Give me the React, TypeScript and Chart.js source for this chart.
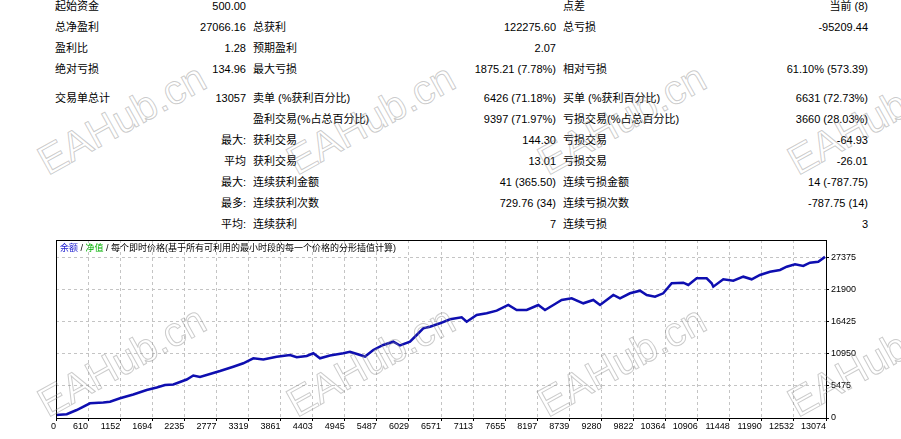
import React, { useEffect, useRef } from "react";
import { Chart, registerables } from "chart.js";

Chart.register(...registerables);

// ---- statistics table (MT4 report) ----
const colLabelA = ["起始资金", "总净盈利", "盈利比", "绝对亏损", "交易单总计", "", "", "", "", "", ""];
const colValueA = ["500.00", "27066.16", "1.28", "134.96", "13057", "", "最大:", "平均", "最大:", "最多:", "平均:"];
const colLabelB = ["", "总获利", "预期盈利", "最大亏损", "卖单 (%获利百分比)", "盈利交易(%占总百分比)", "获利交易", "获利交易", "连续获利金额", "连续获利次数", "连续获利"];
const colValueB = ["", "122275.60", "2.07", "1875.21 (7.78%)", "6426 (71.18%)", "9397 (71.97%)", "144.30", "13.01", "41 (365.50)", "729.76 (34)", "7"];
const colLabelC = ["点差", "总亏损", "", "相对亏损", "买单 (%获利百分比)", "亏损交易(%占总百分比)", "亏损交易", "亏损交易", "连续亏损金额", "连续亏损次数", "连续亏损"];
const colValueC = ["当前 (8)", "-95209.44", "", "61.10% (573.39)", "6631 (72.73%)", "3660 (28.03%)", "-64.93", "-26.01", "14 (-787.75)", "-787.75 (14)", "3"];

// ---- balance curve (trade number -> balance) ----
const tradeNo = [
  0, 182, 351, 577, 803, 917, 1087, 1312, 1540, 1710, 1851, 1992, 2219, 2331, 2445, 2671, 2785, 3010,
  3180, 3350, 3520, 3747, 3973, 4087, 4257, 4369, 4482, 4652, 4878, 4992, 5111, 5247, 5387, 5557,
  5727, 5841, 6011, 6124, 6236, 6350, 6520, 6690, 6888, 6973, 7143, 7313, 7483, 7680, 7822, 7992,
  8189, 8303, 8473, 8586, 8756, 8953, 9123, 9237, 9463, 9576, 9746, 9916, 10030, 10171, 10311,
  10454, 10651, 10736, 10878, 11048, 11133, 11160, 11330, 11500, 11670, 11812, 11953, 12123, 12293,
  12407, 12548, 12688, 12802, 12943, 13057,
];
const balance = [
  500, 650, 1369, 2515, 2652, 2789, 3371, 4021, 4791, 5219, 5646, 5732, 6587, 7272, 7015, 7700, 8042, 8778,
  9359, 10215, 10009, 10489, 10779, 10386, 10608, 11070, 10215, 10694, 11070, 11344, 10950, 10523, 11635, 12490,
  13055, 12405, 13055, 14201, 15348, 15621, 16203, 16888, 17230, 16477, 17623, 17914, 18359, 19334, 18479, 18479,
  19334, 18479, 19505, 20190, 20481, 19625, 20190, 19334, 21045, 20481, 21336, 21781, 21045, 20755, 21336,
  23047, 23150, 22756, 23903, 23903, 23047, 22465, 23732, 23493, 24177, 23732, 24467, 25032, 25323,
  25887, 26298, 26007, 26572, 26743, 27566,
];

const xTickLabels = [
  "0", "610", "1152", "1694", "2235", "2777", "3319", "3861", "4403", "4945", "5487", "6029", "6571",
  "7113", "7655", "8197", "8739", "9280", "9822", "10364", "10906", "11448", "11990", "12532", "13074",
];
const yTickValues = [0, 5475, 10950, 16425, 21900, 27375];
const X_MAX = 13074;
const Y_MAX = 30454;

const legendParts = [
  { text: "余额", color: "#1a1ad0" },
  { text: " / ", color: "#000" },
  { text: "净值", color: "#00b000" },
  { text: " / 每个即时价格(基于所有可利用的最小时段的每一个价格的分形插值计算)", color: "#000" },
];

const watermarkX = [48, 297, 548, 798];
const watermarkY = [177, 419];

const FONT = '"Liberation Sans", "Noto Sans CJK SC", sans-serif';

export default function App() {
  const canvasRef = useRef<HTMLCanvasElement | null>(null);

  useEffect(() => {
    const canvas = canvasRef.current;
    if (!canvas) return;
    const framePlugin = {
      id: "frame",
      afterDatasetsDraw(chart: any) {
        const { ctx, chartArea } = chart;
        ctx.save();
        ctx.strokeStyle = "#000";
        ctx.lineWidth = 1;
        const l = Math.round(chartArea.left) + 0.5;
        const t = Math.round(chartArea.top) + 0.5;
        const w = Math.round(chartArea.right - chartArea.left);
        const h = Math.round(chartArea.bottom - chartArea.top);
        ctx.strokeRect(l, t, w, h);
        ctx.restore();
      },
    };
    const chart = new Chart(canvas, {
      type: "line",
      data: {
        datasets: [
          {
            label: "余额",
            data: tradeNo.map((t, i) => ({ x: t, y: balance[i] })),
            borderColor: "#0e0eb0",
            borderWidth: 2.5,
            pointRadius: 0,
            tension: 0,
            fill: false,
          },
        ],
      },
      options: {
        animation: false,
        responsive: false,
        maintainAspectRatio: false,
        layout: { padding: { left: 56, top: 10, right: 0, bottom: 0 } },
        plugins: { legend: { display: false }, tooltip: { enabled: false }, title: { display: false } },
        scales: {
          x: {
            type: "linear",
            min: 0,
            max: X_MAX,
            afterBuildTicks: (scale: any) => {
              scale.ticks = xTickLabels.map((_, i) => ({ value: (i * X_MAX) / (xTickLabels.length - 1) }));
            },
            afterFit: (scale: any) => {
              scale.height = 21;
            },
            grid: {
              color: "#c4c4c4",
              lineWidth: 1,
              drawTicks: true,
              tickLength: 3,
              tickColor: "#000",
              tickBorderDash: [],
            },
            border: { display: false, dash: [3, 3] },
            ticks: {
              autoSkip: false,
              maxRotation: 0,
              minRotation: 0,
              align: "end",
              padding: 0,
              color: "#000",
              font: { family: FONT, size: 9 },
              callback: (_v: any, index: number) => xTickLabels[index],
            },
          },
          y: {
            type: "linear",
            position: "right",
            min: 0,
            max: Y_MAX,
            afterBuildTicks: (scale: any) => {
              scale.ticks = yTickValues.map((v) => ({ value: v }));
            },
            afterFit: (scale: any) => {
              scale.width = 75;
            },
            grid: {
              color: "#c4c4c4",
              lineWidth: 1,
              drawTicks: true,
              tickLength: 3,
              tickColor: "#000",
              tickBorderDash: [],
            },
            border: { display: false, dash: [3, 3] },
            ticks: {
              padding: 2,
              color: "#000",
              font: { family: FONT, size: 9 },
              callback: (v: any) => String(v),
            },
          },
        },
      },
      plugins: [framePlugin],
    } as any);
    return () => chart.destroy();
  }, []);

  const rowCenters = [6, 27, 48, 69, 98, 119, 140, 161, 182, 203, 224];
  const cell = (text: string, top: number, left: number, width: number, align: "left" | "right") => (
    <div
      style={{
        position: "absolute",
        top,
        left,
        width,
        height: 14,
        lineHeight: "14px",
        textAlign: align,
        whiteSpace: "nowrap",
        fontSize: 11,
        color: "#000",
      }}
    >
      {text}
    </div>
  );

  return (
    <div
      style={{
        position: "absolute",
        left: 0,
        top: 0,
        width: 901,
        height: 439,
        overflow: "hidden",
        background: "#fff",
        fontFamily: FONT,
      }}
    >
      {rowCenters.map((c, i) => {
        const top = c - 7;
        return (
          <React.Fragment key={i}>
            {cell(colLabelA[i], top, 55, 150, "left")}
            {cell(colValueA[i], top, 106, 140, "right")}
            {cell(colLabelB[i], top, 253, 200, "left")}
            {cell(colValueB[i], top, 400, 156, "right")}
            {cell(colLabelC[i], top, 563, 200, "left")}
            {cell(colValueC[i], top, 700, 168, "right")}
          </React.Fragment>
        );
      })}
      <canvas
        ref={canvasRef}
        width={901}
        height={209}
        style={{ position: "absolute", left: 0, top: 230, width: 901, height: 209 }}
      />
      <div
        style={{
          position: "absolute",
          left: 60,
          top: 242,
          height: 12,
          lineHeight: "12px",
          fontSize: 9,
          whiteSpace: "nowrap",
        }}
      >
        {legendParts.map((p, i) => (
          <span key={i} style={{ color: p.color }}>
            {p.text}
          </span>
        ))}
      </div>
      {watermarkY.map((wy) =>
        watermarkX.map((wx) => (
          <div
            key={`${wx}-${wy}`}
            style={{
              position: "absolute",
              left: wx,
              top: wy - 34.7,
              height: 41,
              lineHeight: "41px",
              fontSize: 41,
              fontFamily: '"Liberation Sans", sans-serif',
              color: "transparent",
              WebkitTextStroke: "1px rgba(140,140,140,0.45)",
              transform: "rotate(-29deg)",
              transformOrigin: "0 34.7px",
              whiteSpace: "nowrap",
              pointerEvents: "none",
            }}
          >
            EAHub.cn
          </div>
        ))
      )}
    </div>
  );
}
